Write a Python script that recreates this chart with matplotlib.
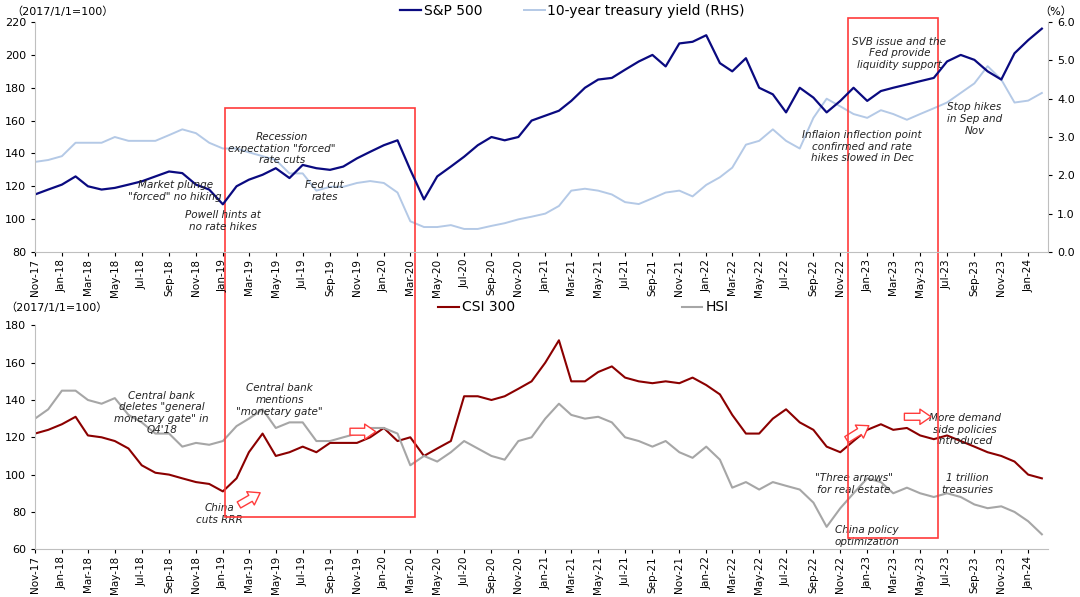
import matplotlib.pyplot as plt
import matplotlib.dates as mdates
import numpy as np
import pandas as pd
from matplotlib.patches import Rectangle

plt.rcParams['font.family'] = ['DejaVu Sans', 'Noto Sans CJK SC']

months = pd.date_range("2017-11-01", "2024-02-01", freq="MS")

spx = [115, 118, 121, 126, 120, 118, 119, 121, 123, 126, 129, 128, 121, 118,
       109, 120, 124, 127, 131, 125, 133, 131, 130, 132, 137, 141,
       145, 148, 130, 112, 126, 132, 138, 145, 150, 148, 150, 160,
       163, 166, 172, 180, 185, 186, 191, 196, 200, 193, 207, 208,
       212, 195, 190, 198, 180, 176, 165, 180, 174, 165, 172, 180,
       172, 178, 180, 182, 184, 186, 196, 200, 197, 190, 185, 201,
       209, 216]
ust10 = [2.35, 2.4, 2.5, 2.85, 2.85, 2.85, 3.0, 2.9, 2.9, 2.9, 3.05, 3.2, 3.1, 2.85,
         2.7, 2.7, 2.6, 2.5, 2.4, 2.05, 2.05, 1.6, 1.7, 1.7, 1.8, 1.85,
         1.8, 1.55, 0.8, 0.65, 0.65, 0.7, 0.6, 0.6, 0.68, 0.75, 0.85, 0.92,
         1.0, 1.2, 1.6, 1.65, 1.6, 1.5, 1.3, 1.25, 1.4, 1.55, 1.6, 1.45,
         1.75, 1.95, 2.2, 2.8, 2.9, 3.2, 2.9, 2.7, 3.5, 4.0, 3.8, 3.6,
         3.5, 3.7, 3.6, 3.45, 3.6, 3.75, 3.9, 4.15, 4.4, 4.85, 4.5, 3.9,
         3.95, 4.15]
csi300 = [122, 124, 127, 131, 121, 120, 118, 114, 105, 101, 100, 98, 96, 95,
          91, 98, 112, 122, 110, 112, 115, 112, 117, 117, 117, 120,
          125, 118, 120, 110, 114, 118, 142, 142, 140, 142, 146, 150,
          160, 172, 150, 150, 155, 158, 152, 150, 149, 150, 149, 152,
          148, 143, 132, 122, 122, 130, 135, 128, 124, 115, 112, 118,
          124, 127, 124, 125, 121, 119, 121, 118, 115, 112, 110, 107,
          100, 98]
hsi = [130, 135, 145, 145, 140, 138, 141, 132, 128, 122, 122, 115, 117, 116,
       118, 126, 130, 135, 125, 128, 128, 118, 118, 120, 122, 125,
       125, 122, 105, 110, 107, 112, 118, 114, 110, 108, 118, 120,
       130, 138, 132, 130, 131, 128, 120, 118, 115, 118, 112, 109,
       115, 108, 93, 96, 92, 96, 94, 92, 85, 72, 82, 90,
       98, 96, 90, 93, 90, 88, 90, 88, 84, 82, 83, 80,
       75, 68]

NAVY = "#0a0a80"
LIGHT = "#b4c9e6"
DRED = "#8b0000"
GREY = "#a6a6a6"

fig = plt.figure(figsize=(10.8, 5.97), dpi=100)
ax1 = fig.add_axes([0.0324, 0.578, 0.938, 0.385])
ax1r = ax1.twinx()
ax2 = fig.add_axes([0.0324, 0.080, 0.938, 0.375])

xmin, xmax = pd.Timestamp("2017-11-01"), pd.Timestamp("2024-02-15")
ticks = pd.date_range("2017-11-01", "2024-01-01", freq="2MS")

l2, = ax1r.plot(months, ust10, color=LIGHT, lw=1.4, label="10-year treasury yield (RHS)")
l1, = ax1.plot(months, spx, color=NAVY, lw=1.6, label="S&P 500")
ax1.set_zorder(ax1r.get_zorder() + 1)
ax1.patch.set_visible(False)
ax1.set_ylim(80, 220)
ax1.set_yticks(range(80, 221, 20))
ax1r.set_ylim(0, 6)
ax1r.set_yticks(np.arange(0, 6.1, 1))
ax1r.yaxis.set_major_formatter(plt.FormatStrFormatter("%.1f"))

l3, = ax2.plot(months, csi300, color=DRED, lw=1.5, label="CSI 300")
l4, = ax2.plot(months, hsi, color=GREY, lw=1.5, label="HSI")
ax2.set_ylim(60, 180)
ax2.set_yticks(range(60, 181, 20))

for ax in (ax1, ax1r, ax2):
    ax.spines["top"].set_visible(False)
    ax.tick_params(labelsize=8, length=3)
for ax in (ax1, ax2):
    ax.spines["right"].set_visible(False)
    ax.set_xlim(xmin, xmax)
    ax.set_xticks(ticks)
    ax.xaxis.set_major_formatter(mdates.DateFormatter("%b-%y"))
    ax.tick_params(axis="x", labelsize=7.5, pad=2)
    for lab in ax.get_xticklabels():
        lab.set_rotation(90)
    ax.spines["left"].set_color("#bfbfbf")
    ax.spines["bottom"].set_color("#bfbfbf")
ax1r.spines["left"].set_visible(False)
ax1r.spines["bottom"].set_visible(False)
ax1r.spines["right"].set_color("#bfbfbf")

fig.text(0.01, 0.975, "（2017/1/1=100）", fontsize=8)
fig.text(0.962, 0.975, "（%）", fontsize=8)
fig.text(0.005, 0.48, "（2017/1/1=100）", fontsize=8)
fig.legend([l1, l2], ["S&P 500", "10-year treasury yield (RHS)"], loc="center",
           bbox_to_anchor=(0.53, 0.982), ncol=2, frameon=False, fontsize=10,
           handlelength=1.5, handletextpad=0.2, columnspacing=3)
fig.legend([l3, l4], ["CSI 300", "HSI"], loc="center",
           bbox_to_anchor=(0.54, 0.485), ncol=2, frameon=False, fontsize=10,
           handlelength=1.5, handletextpad=0.2, columnspacing=12)

fs = 7.5
kw = dict(fontsize=fs, style="italic", ha="center", va="center", color="#222222")
def d(s):
    return pd.Timestamp(s)
ax1.text(d("2018-09-15"), 117, "Market plunge\n\"forced\" no hiking", **kw)
ax1.text(d("2019-01-01"), 99, "Powell hints at\nno rate hikes", **kw)
ax1.text(d("2019-05-15"), 143, "Recession\nexpectation \"forced\"\nrate cuts", **kw)
ax1.text(d("2019-08-20"), 117, "Fed cut\nrates", **kw)
ax1.text(d("2023-03-15"), 201, "SVB issue and the\nFed provide\nliquidity support", **kw)
ax1.text(d("2022-12-20"), 144, "Inflaion inflection point\nconfirmed and rate\nhikes slowed in Dec", **kw)
ax1.text(d("2023-09-01"), 161, "Stop hikes\nin Sep and\nNov", **kw)

ax2.text(d("2018-08-15"), 133, "Central bank\ndeletes \"general\nmonetary gate\" in\nQ4'18", **kw)
ax2.text(d("2019-05-10"), 140, "Central bank\nmentions\n\"monetary gate\"", **kw)
ax2.text(d("2018-12-25"), 79, "China\ncuts RRR", **kw)
ax2.text(d("2022-12-01"), 95, "\"Three arrows\"\nfor real estate", **kw)
ax2.text(d("2023-01-01"), 67, "China policy\noptimization", **kw)
ax2.text(d("2023-08-10"), 124, "More demand\nside policies\nintroduced", **kw)
ax2.text(d("2023-08-15"), 95, "1 trillion\ntreasuries", **kw)

akw = dict(arrowstyle="simple,head_width=1.1,head_length=0.8,tail_width=0.5",
           fc="white", ec="#ff3b3b", lw=1)
for x0, y0, x1, y1 in [("2019-02-01", 83, "2019-04-01", 91),
                       ("2019-10-10", 123, "2019-12-20", 123),
                       ("2022-11-10", 118, "2023-01-10", 127),
                       ("2023-03-20", 131, "2023-06-01", 131)]:
    ax2.annotate("", xy=(d(x1), y1), xytext=(d(x0), y0), arrowprops=akw)

W, H = 1080, 597
for x0, y0, x1, y1 in [(225, 108, 415, 517), (848, 18, 938, 538)]:
    fig.add_artist(Rectangle((x0 / W, 1 - y1 / H), (x1 - x0) / W, (y1 - y0) / H,
                             transform=fig.transFigure, fill=False,
                             ec="#ff3b3b", lw=1.2))

fig.savefig("out.png", dpi=100)
